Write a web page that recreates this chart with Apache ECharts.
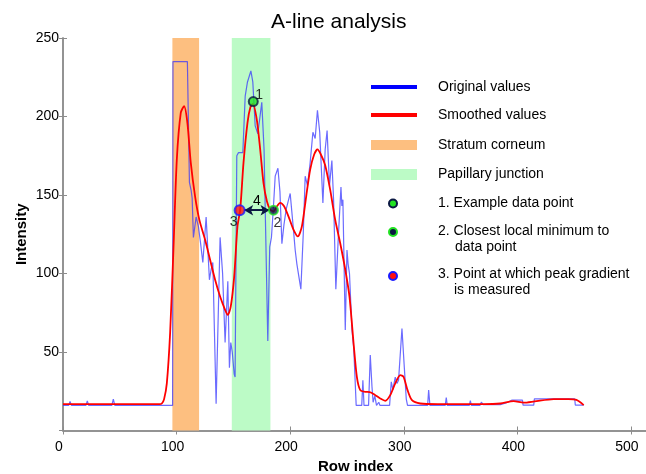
<!DOCTYPE html>
<html>
<head>
<meta charset="utf-8">
<script src="https://cdn.jsdelivr.net/npm/echarts@6/dist/echarts.min.js"></script>
<style>
  html, body { margin: 0; padding: 0; background: #fff; }
  #chart { width: 646px; height: 474px; }
</style>
</head>
<body>
<div id="chart"></div>
<script>
const FONT = '"Liberation Sans", Arial, Helvetica, sans-serif';

// Axis ranges / ticks
const xRange = [0, 515];
const xStep = 100;
const yRange = [0, 250];
const yStep = 50;

// A-line intensity profile (row index, intensity)
const originalValues = [
  [0,16],[5,16],[6.2,18.5],[7.4,16],[20.2,16],[21.4,18.8],[22.6,16],[43,16],[44.3,20],[45.6,16],
  [96.5,16],[96.8,235],[109.5,235],[111.3,158],[112.8,153],[113.7,148],[114.8,123],[117.2,136],
  [119.2,130],[121,120],[123.1,107],[126,136],[128.9,96],[130.5,103],[131.9,107],[134.8,17],
  [138.3,123],[140.5,100],[142.7,56],[145.1,95],[146.5,40],[147.7,56],[149,50],[150.7,36],
  [151.5,34],[153,175],[154.5,177],[158.3,177],[160.4,213],[162.4,222],[165.4,229],[167.1,222],
  [169.2,194],[171.5,189],[175,209],[177,179],[180.3,57],[182,117],[183.5,123],[185.3,143],
  [186.8,162],[189.2,167],[191,152],[192.7,119],[194.5,131],[196.5,141],[200,151],[202.5,131],
  [204.4,115],[205.9,106],[207.5,107],[209.4,90],[211.5,125],[213.2,162],[215.2,156],[217.5,170],
  [220,190],[222,186],[224,204],[226,190],[228.8,145],[230.8,179],[232.5,191],[234.6,156],
  [236.7,172],[238.2,147],[240.2,90],[242.5,125],[244.7,155],[245.5,143],[246.4,147],[248.5,64],
  [250,115],[251,106],[252.2,100],[254.4,64],[256,52],[258.1,16],[263,16],[264,32],[265,16],
  [269,16],[270.5,48],[272,28],[273,18],[274.5,22],[276,16],[278,18],[279,16],[287.5,16],
  [289,31],[290.4,26],[292.5,34],[294,30],[295.4,32],[298.4,65],[300.4,41],[302.2,20],[303.3,16],
  [321,16],[321.9,25.7],[323,16],[336.5,16],[337.4,21],[338.3,16],[357.7,16],[358.6,19],[359.5,16],
  [367,16],[368.3,18],[370,16.5],[385,16.5],[390,17.5],[395,19.3],[404.5,19.3],[405,16.2],
  [414.4,16.2],[415,20.2],[450.5,20.2],[451,16.2],[458.4,16.2]
];

const smoothedValues = [
  [0,16.8],[85,16.8],[87,17.2],[89,20],[91.4,30],[94.3,62],[97.2,115],[100.2,172.6],[103.7,202.4],
  [106.6,206.6],[109.5,196],[112.5,170.5],[116.3,149],[120.1,134],[125.1,121.5],[129.5,108.7],
  [133.9,96],[138.3,85.3],[142.7,76.8],[145.1,73.6],[147.7,79],[150.7,98],[153.6,130],[156,140.7],
  [158.9,170.5],[162.4,196],[165,206],[167.1,208],[170.6,198],[173.6,179],[176.5,157.7],[179.5,146],
  [182.4,140.7],[185.3,139.6],[188.3,142.8],[191.2,145],[194.5,143],[198.5,136.4],[202.9,128],
  [206.8,123.6],[210.3,130],[214.1,149.2],[217.6,166.2],[221.1,175.8],[224,179],[227,175.8],
  [230.8,169],[235.2,153.4],[239.6,134.3],[244,119.4],[248.5,102.4],[252.2,85.3],[255.8,55.6],
  [258.7,34.2],[261.7,25.7],[266.1,24.6],[270,24.5],[274.9,22.5],[279.3,20.4],[283.7,18.9],
  [288.1,22.5],[292.5,30],[296.9,35.3],[299.8,34.2],[303.3,25.7],[307.2,19.3],[314.5,17.2],
  [330,16.8],[370,16.8],[385,17.2],[396.7,18.7],[405.6,17.7],[415,18.5],[432,20],[445,20],
  [452,19.5],[458.4,16.2]
];

// Tissue regions (row index range)
const stratumCorneum = [96.3, 119.8];
const papillaryJunction = [148.6, 182.6];

// Highlighted points
const examplePoint = [167.5, 209.5];
const localMinimum = [185.3, 140.3];
const gradientPoint = [155.5, 140.3];
// Distance between gradient point and local minimum
const distanceSpan = [159.5, 181.8];
const distanceLevel = 140.3;

const NAVY = '#0b1842';
const GREEN = '#22e222';
const BLUE = '#1a1aff';
const RED = '#ff1010';
const AXIS = '#8c8c8c';

const chart = echarts.init(document.getElementById('chart'), null, { renderer: 'canvas' });

const baseX = {
  type: 'value', min: xRange[0], max: xRange[1], interval: xStep,
  splitLine: { show: false },
  axisLine: { lineStyle: { color: AXIS, width: 1.5 } },
  axisTick: { inside: true, length: 4, lineStyle: { color: AXIS } }
};
const baseY = {
  type: 'value', min: yRange[0], max: yRange[1], interval: yStep,
  splitLine: { show: false },
  axisLine: { lineStyle: { color: AXIS, width: 1.5 } },
  axisTick: { inside: true, length: 4, lineStyle: { color: AXIS } }
};

const legendRows = [
  { y: 87, text: 'Original values' },
  { y: 115, text: 'Smoothed values' },
  { y: 145, text: 'Stratum corneum' },
  { y: 174, text: 'Papillary junction' },
  { y: 203, text: '1. Example data point' },
  { y: 231, text: '2. Closest local minimum to' },
  { y: 247, text: 'data point', indent: 17 },
  { y: 274, text: '3. Point at which peak gradient' },
  { y: 290, text: 'is measured', indent: 16 }
];

const legendGraphics = [
  { type: 'line', shape: { x1: 371, y1: 87, x2: 417, y2: 87 }, style: { stroke: '#0000ff', lineWidth: 4 } },
  { type: 'line', shape: { x1: 371, y1: 115, x2: 417, y2: 115 }, style: { stroke: '#ff0000', lineWidth: 4 } },
  { type: 'rect', shape: { x: 371, y: 140, width: 46, height: 10 }, style: { fill: '#fdbf80' } },
  { type: 'rect', shape: { x: 371, y: 169, width: 46, height: 11 }, style: { fill: '#bcfbc6' } },
  { type: 'circle', shape: { cx: 393, cy: 203.5, r: 4 }, style: { fill: GREEN, stroke: NAVY, lineWidth: 2 } },
  { type: 'circle', shape: { cx: 393, cy: 232, r: 4 }, style: { fill: NAVY, stroke: GREEN, lineWidth: 2 } },
  { type: 'circle', shape: { cx: 393, cy: 276, r: 4 }, style: { fill: RED, stroke: BLUE, lineWidth: 2 } }
].concat(legendRows.map(r => ({
  type: 'text', x: 438 + (r.indent || 0), y: r.y,
  style: { text: r.text, fill: '#000', font: '14px ' + FONT, verticalAlign: 'middle', align: 'left' }
})));

const pointLabel = (text, offset) => ({
  show: true, formatter: text, position: 'inside', offset: offset,
  color: '#000', fontSize: 14, fontFamily: FONT
});

chart.setOption({
  animation: false,
  backgroundColor: '#fff',
  title: {
    text: 'A-line analysis', left: 266, top: 7,
    textStyle: { fontSize: 21, fontWeight: 'normal', color: '#000', fontFamily: FONT }
  },
  grid: { left: 63, right: -2, top: 38, bottom: 43.5, outerBoundsMode: 'none', containLabel: false },
  xAxis: [
    Object.assign({}, baseX, {
      position: 'bottom',
      name: 'Row index', nameLocation: 'middle', nameGap: 29, nameMoveOverlap: false,
      nameTextStyle: { fontSize: 15, fontWeight: 'bold', color: '#000', fontFamily: FONT },
      axisLabel: { showMaxLabel: false, margin: 10, padding: [0, 8, 0, 0], color: '#000', fontSize: 14, fontFamily: FONT }
    }),
    Object.assign({}, baseX, { position: 'top', axisLabel: { show: false } })
  ],
  yAxis: [
    Object.assign({}, baseY, {
      position: 'left',
      name: 'Intensity', nameLocation: 'middle', nameGap: 34, nameMoveOverlap: false,
      nameTextStyle: { fontSize: 15, fontWeight: 'bold', color: '#000', fontFamily: FONT },
      axisLabel: { showMinLabel: false, margin: 4, color: '#000', fontSize: 14, fontFamily: FONT }
    }),
    Object.assign({}, baseY, { position: 'right', axisLabel: { show: false } })
  ],
  series: [
    {
      name: 'Regions', type: 'line', data: [], z: 1, silent: true,
      markArea: {
        silent: true,
        data: [
          [{ xAxis: stratumCorneum[0], itemStyle: { color: '#fdbf80' } }, { xAxis: stratumCorneum[1] }],
          [{ xAxis: papillaryJunction[0], itemStyle: { color: '#bcfbc6' } }, { xAxis: papillaryJunction[1] }]
        ]
      }
    },
    {
      name: 'Original values', type: 'line', data: originalValues, z: 3,
      showSymbol: false, symbol: 'none',
      lineStyle: { color: 'rgba(50,50,255,0.72)', width: 1.2 }
    },
    {
      name: 'Smoothed values', type: 'line', data: smoothedValues, z: 4,
      showSymbol: false, symbol: 'none', smooth: 0.25,
      lineStyle: { color: '#ff0000', width: 1.8 }
    },
    {
      name: 'Distance', type: 'line', data: [], z: 5,
      markLine: {
        silent: true,
        symbol: ['arrow', 'arrow'], symbolSize: [8, 9],
        lineStyle: { color: NAVY, width: 2, type: 'solid' },
        label: { show: true, formatter: '4', position: 'middle', distance: 2, color: '#000', fontSize: 14, fontFamily: FONT },
        data: [[{ coord: [distanceSpan[0], distanceLevel] }, { coord: [distanceSpan[1], distanceLevel] }]]
      }
    },
    {
      name: 'Points', type: 'scatter', z: 6,
      data: [
        { value: examplePoint, symbolSize: 9, itemStyle: { color: GREEN, borderColor: NAVY, borderWidth: 2 }, label: pointLabel('1', [6, -6]) },
        { value: localMinimum, symbolSize: 9, itemStyle: { color: NAVY, borderColor: GREEN, borderWidth: 2 }, label: pointLabel('2', [4, 13]) },
        { value: gradientPoint, symbolSize: 10, itemStyle: { color: RED, borderColor: BLUE, borderWidth: 2 }, label: pointLabel('3', [-6, 12]) }
      ]
    }
  ],
  graphic: legendGraphics
});
</script>
</body>
</html>
